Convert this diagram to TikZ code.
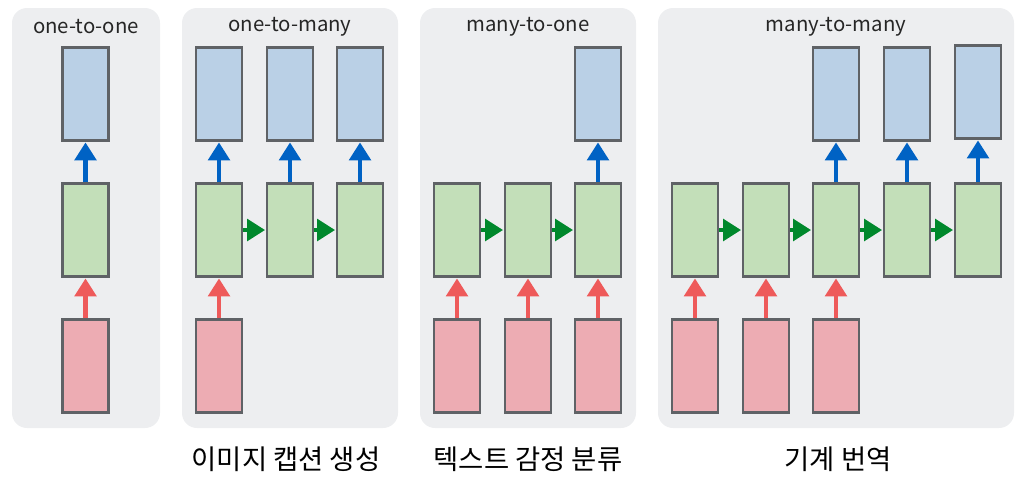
\documentclass[tikz,border=0pt]{standalone}
\usepackage{fontspec}
\setmainfont{Noto Sans CJK KR}
\usepackage{tikz}
\usetikzlibrary{arrows.meta,positioning}

\definecolor{panelgray}{HTML}{EDEEF0}
\definecolor{edgegray}{HTML}{5F6266}
\definecolor{outfill}{HTML}{BAD0E6}
\definecolor{hidfill}{HTML}{C3DFB9}
\definecolor{infill}{HTML}{EDACB3}
\definecolor{upblue}{HTML}{0062C4}
\definecolor{rightgreen}{HTML}{00882C}
\definecolor{upred}{HTML}{EE5A5A}

\tikzset{
	panel/.style={fill=panelgray, draw=none, rounded corners=0.3cm},
	cell/.style={draw=edgegray, line width=1.2pt, minimum width=0.92cm, minimum height=1.86cm, inner sep=0pt},
	outcell/.style={cell, fill=outfill},
	hidcell/.style={cell, fill=hidfill},
	incell/.style={cell, fill=infill},
	flow/.style={line width=2.4pt, -{Triangle[width=0.43cm, length=0.36cm]}, shorten >=0.5pt},
	title/.style={font=\fontsize{11.6}{13}\selectfont, text=black!85},
	caption/.style={font=\fontsize{15.6}{18}\selectfont}
}

\begin{document}
\begin{tikzpicture}[x=0.02cm, y=-0.02cm]
	\useasboundingbox (0,0) rectangle (1024,484);

	% backgrounds
	\fill[panel] (12,8) rectangle (160,428);
	\fill[panel] (182,8) rectangle (398,428);
	\fill[panel] (420,8) rectangle (636,428);
	\fill[panel] (658,8) rectangle (1014,428);

	\node[title] (ta) at (86,27) {one-to-one};
	\node[title] (tb) at (290,27) {one-to-many};
	\node[title] (tc) at (528,27) {many-to-one};
	\node[title] (td) at (836,27) {many-to-many};

	% one-to-one
	\node[outcell] (ao1) at (85.5,94) {};
	\node[hidcell] (ah1) at (85.5,230) {};
	\node[incell] (ai1) at (85.5,366) {};
	\draw[flow, upred] (ai1.north) -- (ah1.south);
	\draw[flow, upblue] (ah1.north) -- (ao1.south);

	% one-to-many
	\node[outcell] (bo1) at (219,94) {};
	\node[outcell] (bo2) at (290,94) {};
	\node[outcell] (bo3) at (360,94) {};
	\node[hidcell] (bh1) at (219,230) {};
	\node[hidcell] (bh2) at (290,230) {};
	\node[hidcell] (bh3) at (360,230) {};
	\node[incell] (bi1) at (219,366) {};
	\draw[flow, upred] (bi1.north) -- (bh1.south);
	\draw[flow, rightgreen] (bh1.east) -- (bh2.west);
	\draw[flow, rightgreen] (bh2.east) -- (bh3.west);
	\draw[flow, upblue] (bh1.north) -- (bo1.south);
	\draw[flow, upblue] (bh2.north) -- (bo2.south);
	\draw[flow, upblue] (bh3.north) -- (bo3.south);

	% many-to-one
	\node[outcell] (co3) at (598,94) {};
	\node[hidcell] (ch1) at (457,230) {};
	\node[hidcell] (ch2) at (528,230) {};
	\node[hidcell] (ch3) at (598,230) {};
	\node[incell] (ci1) at (457,366) {};
	\node[incell] (ci2) at (528,366) {};
	\node[incell] (ci3) at (598,366) {};
	\draw[flow, upred] (ci1.north) -- (ch1.south);
	\draw[flow, upred] (ci2.north) -- (ch2.south);
	\draw[flow, upred] (ci3.north) -- (ch3.south);
	\draw[flow, rightgreen] (ch1.east) -- (ch2.west);
	\draw[flow, rightgreen] (ch2.east) -- (ch3.west);
	\draw[flow, upblue] (ch3.north) -- (co3.south);

	% many-to-many
	\node[outcell] (do3) at (836,94) {};
	\node[outcell] (do4) at (907,94) {};
	\node[outcell] (do5) at (978,92) {};
	\node[hidcell] (dh1) at (695,230) {};
	\node[hidcell] (dh2) at (766,230) {};
	\node[hidcell] (dh3) at (836,230) {};
	\node[hidcell] (dh4) at (907,230) {};
	\node[hidcell] (dh5) at (978,230) {};
	\node[incell] (di1) at (695,366) {};
	\node[incell] (di2) at (766,366) {};
	\node[incell] (di3) at (836,366) {};
	\draw[flow, upred] (di1.north) -- (dh1.south);
	\draw[flow, upred] (di2.north) -- (dh2.south);
	\draw[flow, upred] (di3.north) -- (dh3.south);
	\draw[flow, rightgreen] (dh1.east) -- (dh2.west);
	\draw[flow, rightgreen] (dh2.east) -- (dh3.west);
	\draw[flow, rightgreen] (dh3.east) -- (dh4.west);
	\draw[flow, rightgreen] (dh4.east) -- (dh5.west);
	\draw[flow, upblue] (dh3.north) -- (do3.south);
	\draw[flow, upblue] (dh4.north) -- (do4.south);
	\draw[flow, upblue] (dh5.north) -- (do5.south);

	% captions
	\node[caption] (cb) at (286,459) {이미지 캡션 생성};
	\node[caption] (cc) at (528,459) {텍스트 감정 분류};
	\node[caption] (cd) at (838,459) {기계 번역};
\end{tikzpicture}
\end{document}
